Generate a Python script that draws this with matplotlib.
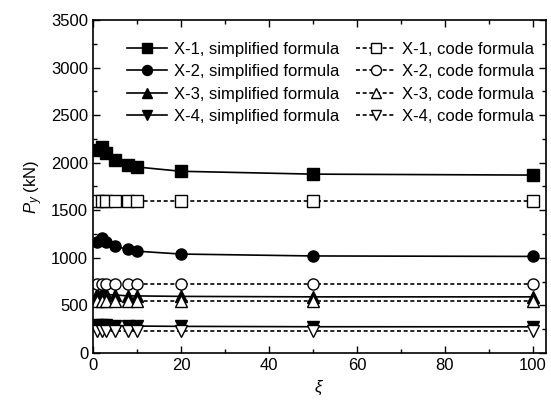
import matplotlib
matplotlib.use('Agg')
import matplotlib.pyplot as plt
from matplotlib.ticker import MultipleLocator

plt.rcParams['font.family'] = ['Liberation Sans', 'DejaVu Sans']
plt.rcParams['mathtext.fontset'] = 'custom'
plt.rcParams['mathtext.it'] = 'Liberation Sans:italic'
plt.rcParams['mathtext.rm'] = 'Liberation Sans'

xi = [1, 2, 3, 5, 8, 10, 20, 50, 100]

x1_simp = [2130, 2160, 2100, 2030, 1975, 1955, 1910, 1880, 1870]
x2_simp = [1170, 1210, 1170, 1120, 1090, 1070, 1040, 1020, 1015]
x3_simp = [620, 630, 615, 610, 600, 600, 595, 590, 590]
x4_simp = [292, 295, 290, 288, 285, 283, 280, 276, 275]

x1_code = [1600] * 9
x2_code = [720] * 9
x3_code = [550] * 9
x4_code = [228] * 9

labels = ['X-1', 'X-2', 'X-3', 'X-4']
markers = ['s', 'o', '^', 'v']
simp = [x1_simp, x2_simp, x3_simp, x4_simp]
code = [x1_code, x2_code, x3_code, x4_code]

fig = plt.figure(figsize=(5.51, 4.05), dpi=100)
ax = fig.add_axes([93 / 551, 1 - 353 / 405, (546 - 93) / 551, (353 - 20) / 405])

handles = []
for lab, m, ys in zip(labels, markers, simp):
    h, = ax.plot(xi, ys, color='black', lw=1.2, marker=m, ms=8,
                 mfc='black', mec='black', label=lab + ', simplified formula')
    handles.append(h)
for lab, m, ys in zip(labels, markers, code):
    h, = ax.plot(xi, ys, color='black', lw=1.2, ls=(0, (2.4, 1.6)), marker=m, ms=8,
                 mfc='white', mec='black', label=lab + ', code formula')
    handles.append(h)

ax.set_xlim(0, 103)
ax.set_ylim(0, 3500)
ax.xaxis.set_major_locator(MultipleLocator(20))
ax.xaxis.set_minor_locator(MultipleLocator(10))
ax.yaxis.set_major_locator(MultipleLocator(500))
ax.yaxis.set_minor_locator(MultipleLocator(250))
ax.tick_params(which='both', direction='in', top=True, right=True, labelsize=12, width=1)
ax.tick_params(which='major', length=5)
ax.tick_params(which='minor', length=3)
for s in ax.spines.values():
    s.set_linewidth(1.2)

ax.set_xlabel(r'$\xi$', fontsize=12, family='DejaVu Serif', style='italic')
ax.set_ylabel(r'$P_y$ (kN)', fontsize=12)

ax.legend(handles=handles, ncol=2, loc='upper right', frameon=False, fontsize=12,
          handlelength=2.4, handletextpad=0.4, columnspacing=1.0, labelspacing=0.45,
          borderaxespad=0.3, bbox_to_anchor=(1.0, 0.97), markerscale=0.9)

fig.savefig('out.png', dpi=100)
